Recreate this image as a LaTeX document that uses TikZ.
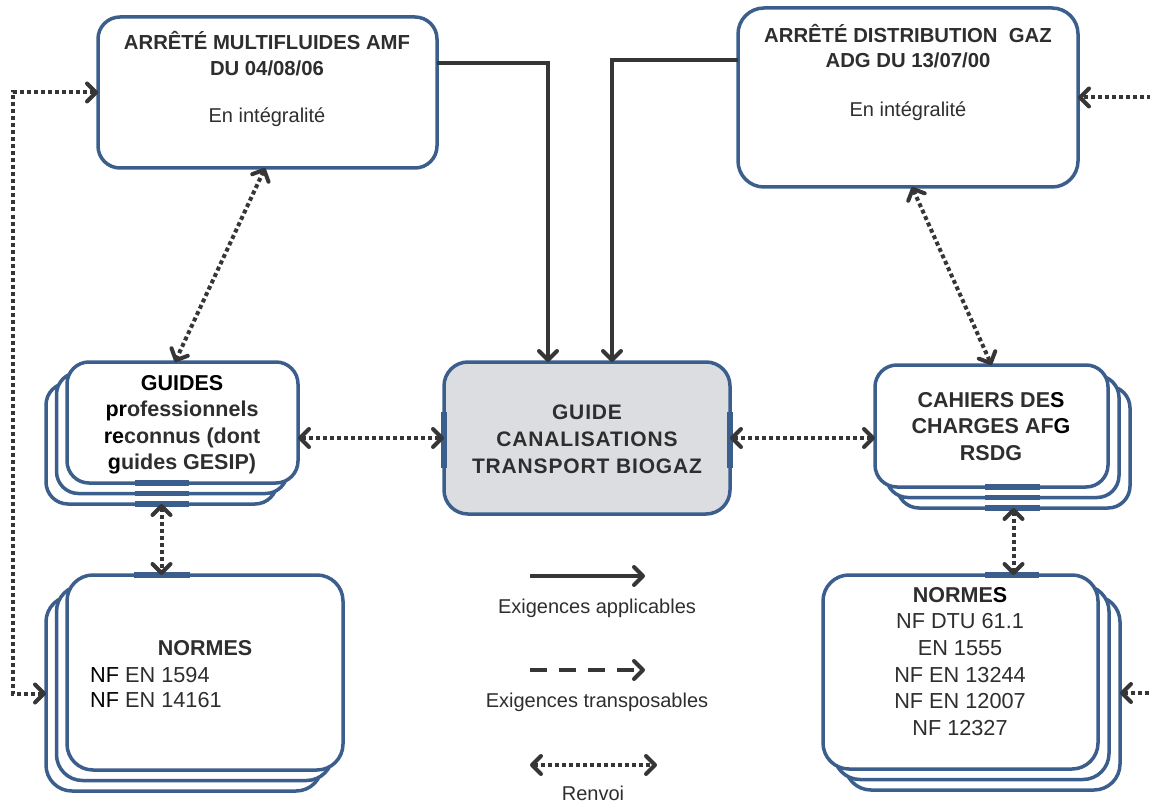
\documentclass[tikz,border=0pt]{standalone}
\usepackage{fontspec}
\setmainfont{Liberation Sans}
\newfontfamily\spaced{Liberation Sans}[LetterSpace=4]
\usetikzlibrary{arrows.meta}
\definecolor{boxblue}{HTML}{3B5E8C}
\definecolor{ink}{HTML}{2E2E2E}
\definecolor{guidefill}{HTML}{DCDDE0}
\definecolor{wire}{HTML}{363636}
\tikzset{
  barb/.tip={Straight Barb[length=9pt,width=18pt,round]},
  frame/.style={draw=boxblue, line width=3.5pt, fill=white, rounded corners=22pt,
    inner sep=0pt, outer sep=0pt},
  port/.style={draw=boxblue, line width=5.5pt},
  applic/.style={draw=wire, line width=4pt, -barb},
  transp/.style={draw=wire, line width=4pt, dash pattern=on 17pt off 12pt, -barb},
  renvoi/.style={draw=wire, line width=4pt, dash pattern=on 4pt off 3pt, barb-barb},
  hd/.style={font=\bfseries\fontsize{20.3}{20.3}\selectfont, text=ink, anchor=base, inner sep=0pt},
  hdb/.style={font=\bfseries\fontsize{21.5}{21.5}\selectfont, text=ink, anchor=base, inner sep=0pt},
  txt/.style={font=\fontsize{20}{20}\selectfont, text=ink, anchor=base, inner sep=0pt},
  norm/.style={font=\fontsize{21.7}{21.7}\selectfont, text=ink, anchor=base, inner sep=0pt},
  normhd/.style={font=\bfseries\fontsize{21.5}{21.5}\selectfont, text=ink, anchor=base, inner sep=0pt},
  centre/.style={font=\spaced\bfseries\fontsize{21}{21}\selectfont, text=ink, anchor=base, inner sep=0pt},
}
\begin{document}
\begin{tikzpicture}[x=1pt,y=-1pt]
\useasboundingbox (0,0) rectangle (1150,802);
\clip (0,0) rectangle (1150,802);

% --- top boxes: the two arrêtés
\node[frame, minimum width=339pt, minimum height=151pt] (amf) at (267.5,92.5) {};
\node[frame, rounded corners=26pt, minimum width=340pt, minimum height=179pt] (adg) at (908,97.5) {};

% --- central guide
\node[frame, fill=guidefill, rounded corners=24pt, minimum width=286pt, minimum height=152pt] (guide) at (587,438) {};

% --- stacked boxes on the left (layers shifted left and down)
\foreach \k in {2,1}
  \node[frame, minimum width=231pt, minimum height=121pt] (gL\k) at ({182.5-10.5*\k},{422.5+10.5*\k}) {};
\node[frame, minimum width=231pt, minimum height=121pt] (guides) at (182.5,422.5) {};
\foreach \k in {2,1}
  \node[frame, rounded corners=26pt, minimum width=276pt, minimum height=195pt] (nL\k) at ({205-10.5*\k},{672.5+10.5*\k}) {};
\node[frame, rounded corners=26pt, minimum width=276pt, minimum height=195pt] (normesL) at (205,672.5) {};

% --- stacked boxes on the right (layers shifted right and down)
\foreach \k in {2,1}
  \node[frame, minimum width=233pt, minimum height=122pt] (cR\k) at ({991.5+11*\k},{426+10.5*\k}) {};
\node[frame, minimum width=233pt, minimum height=122pt] (cahiers) at (991.5,426) {};
\foreach \k in {2,1}
  \node[frame, rounded corners=26pt, minimum width=275pt, minimum height=194pt] (nR\k) at ({960.5+11*\k},{672+10.5*\k}) {};
\node[frame, rounded corners=26pt, minimum width=275pt, minimum height=194pt] (normesR) at (960.5,672) {};

% --- connection ports
\foreach \n in {guides,gL1,gL2}
  \draw[port] (135,0 |- \n.south) -- (189,0 |- \n.south);
\draw[port] (134,0 |- normesL.north) -- (190,0 |- normesL.north);
\foreach \n in {cahiers,cR1,cR2}
  \draw[port] (985,0 |- \n.south) -- (1040,0 |- \n.south);
\draw[port] (985,0 |- normesR.north) -- (1039,0 |- normesR.north);
\draw[port] (guide.west |- 0,412) -- (guide.west |- 0,468);
\draw[port] (guide.east |- 0,412) -- (guide.east |- 0,468);

% --- texts
\node[hd] (amf1) at (267,50) {ARRÊTÉ MULTIFLUIDES AMF};
\node[hd] (amf2) at (267,76) {DU 04/08/06};
\node[txt] (amf3) at (267,123) {En intégralité};

\node[hd] (adg1) at (908,43) {ARRÊTÉ DISTRIBUTION\ \ GAZ};
\node[hd] (adg2) at (908,68) {ADG DU 13/07/00};
\node[txt] (adg3) at (908,117) {En intégralité};

\node[centre] (gd1) at (587,419) {GUIDE};
\node[centre] (gd2) at (587,446) {CANALISATIONS};
\node[centre] (gd3) at (587,473) {TRANSPORT BIOGAZ};

\node[hdb, text=black] (gs1) at (182,390) {GUIDES};
\node[hdb] (gs2) at (182,416.5) {{\color{black}pr}ofessionnels};
\node[hdb] (gs3) at (182,443) {{\color{black}re}connus (dont};
\node[hdb] (gs4) at (182,469.5) {{\color{black}g}uides GESIP)};

\node[hdb] (ch1) at (991,407) {CAHIERS DE{\color{black}S}};
\node[hdb] (ch2) at (991,433) {CHARGES\ AF{\color{black}G}};
\node[hdb] (ch3) at (991,460) {RSDG};

\node[normhd] (nl1) at (205,655) {NORMES};
\node[norm, anchor=base west] (nl2) at (90,682) {{\color{black}NF} EN 1594};
\node[norm, anchor=base west] (nl3) at (90,707) {{\color{black}NF} EN 14161};

\node[normhd] (nr1) at (960,602) {NORME{\color{black}S}};
\node[norm] (nr2) at (960,628) {NF DTU 61.1};
\node[norm] (nr3) at (960,655) {EN 1555};
\node[norm] (nr4) at (960,682) {NF EN 13244};
\node[norm] (nr5) at (960,708) {NF EN 12007};
\node[norm] (nr6) at (960,735) {NF 12327};

% --- connectors
\draw[applic] ([yshift=29.5pt]amf.east) -| ([xshift=-39pt]guide.north);
\draw[applic] ([yshift=37.5pt]adg.west) -| ([xshift=25pt]guide.north);
\draw[renvoi] ([xshift=-2.5pt]amf.south) -- ([xshift=-7.5pt]guides.north);
\draw[renvoi] ([xshift=4pt]adg.south) -- (cahiers.north);
\draw[renvoi] ([yshift=-15.5pt]guides.east) -- (guide.west);
\draw[renvoi] (guide.east) -- ([yshift=-12pt]cahiers.west);
\draw[renvoi] (gL2.south) -- (gL2.south |- normesL.north);
\draw[renvoi] (cR2.south) -- (cR2.south |- normesR.north);
\draw[renvoi] (nL2.west) -- ++(-33,0) |- (amf.west);
\draw[renvoi] (nR2.east) -- ++(45,0) |- (adg.east);

% --- legend
\coordinate (ap1) at (530,576); \coordinate (ap2) at (645,576);
\draw[applic] (ap1) -- (ap2);
\node[txt] (lg1) at (597,613) {Exigences applicables};
\coordinate (tr1) at (530,670); \coordinate (tr2) at (645,670);
\draw[transp] (tr1) -- (tr2);
\node[txt] (lg2) at (597,707) {Exigences transposables};
\coordinate (rv1) at (530,765); \coordinate (rv2) at (657,765);
\draw[renvoi] (rv1) -- (rv2);
\node[txt] (lg3) at (593,800) {Renvoi};
\end{tikzpicture}
\end{document}
